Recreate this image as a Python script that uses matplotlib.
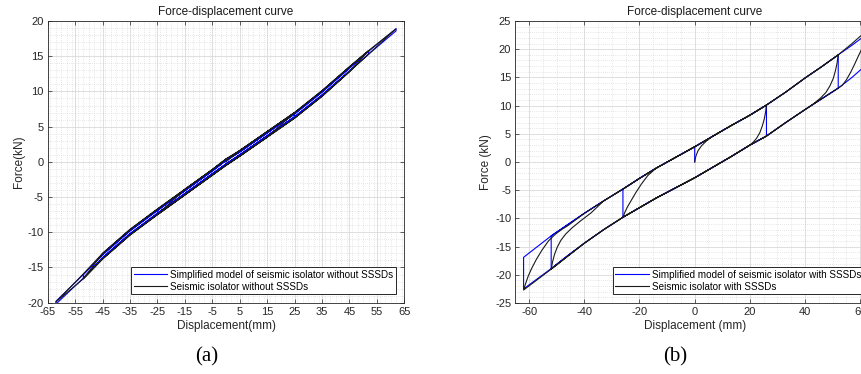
import numpy as np
import matplotlib
matplotlib.use("Agg")
import matplotlib.pyplot as plt
from matplotlib.ticker import MultipleLocator

plt.rcParams['font.family'] = ['Liberation Sans', 'DejaVu Sans']
plt.rcParams['axes.unicode_minus'] = False

# ---------------- Panel (a) data (without SSSDs) ----------------
xa = [-62, -52, -45, -35, -25, -15, -5, 0, 5, 15, 25, 35, 45, 52, 62]
# experimental isolator: branch while moving right (upper) / left (lower)
a_exp_upper = [-19.5, -15.9, -13.0, -9.6, -6.7, -3.9, -1.1, 0.4, 1.6, 4.3, 7.0, 10.1, 13.5, 15.8, 18.9]
a_exp_lower = [-19.9, -16.6, -13.8, -10.4, -7.5, -4.7, -1.9, -0.5, 0.8, 3.5, 6.2, 9.3, 12.8, 15.3, 18.8]
# simplified model
a_mod_upper = [-19.8, -16.0, -13.2, -9.8, -6.9, -4.1, -1.3, 0.2, 1.4, 4.1, 6.8, 9.9, 13.3, 15.7, 18.9]
a_mod_lower = [-20.2, -16.5, -13.6, -10.2, -7.3, -4.5, -1.7, -0.3, 1.0, 3.7, 6.4, 9.5, 12.9, 15.3, 18.6]

# ---------------- Panel (b) data (with SSSDs) ----------------
xb = [-65, -62, -52, -46, -40, -33, -26, -20, -14, -7, 0, 7, 13, 20, 26, 33, 40, 46, 52, 57, 60, 62, 63.5, 65]
b_mod_upper = [-17.9, -16.9, -13.1, -11.1, -9.1, -6.9, -4.8, -2.9, -1.1, 0.8, 2.7, 4.7, 6.4, 8.3, 10.1,
               12.4, 14.9, 16.9, 19.0, 20.7, 21.8, 22.5, 23.0, 23.5]
b_mod_lower = [-23.6, -22.5, -18.9, -16.6, -14.4, -12.0, -9.8, -8.1, -6.4, -4.6, -2.8, -0.8, 0.9, 3.0, 4.6,
               7.0, 9.3, 11.2, 13.1, 15.0, 16.3, 17.1, 17.7, 18.3]
b_exp_upper = [-18.2, -17.2, -13.4, -11.3, -9.1, -6.9, -4.8, -2.9, -1.1, 0.8, 2.7, 4.7, 6.4, 8.3, 10.1,
               12.4, 14.9, 16.9, 19.0, 21.0, 22.3, 23.0, 23.4, 23.9]
b_exp_lower = [-23.8, -22.7, -19.0, -16.7, -14.4, -12.0, -9.8, -8.1, -6.4, -4.6, -2.8, -0.8, 0.9, 3.0, 4.6,
               7.0, 9.3, 11.2, 13.1, 15.0, 16.3, 17.1, 17.7, 18.3]

# experimental reversal curves (panel b)
rev0_x = [0, 0.4, 1.2, 2.5, 4.2, 6, 7]
rev0_f = [0, 1.0, 2.0, 2.9, 3.7, 4.4, 4.7]
rev1_x = [26, 25.7, 25.2, 24.5, 23.6, 22.4, 21.2, 20]
rev1_f = [10.1, 8.9, 7.6, 6.4, 5.2, 4.2, 3.5, 3.0]
rev2_x = [-26, -25.3, -24.3, -23, -21.3, -19.3, -17, -14]
rev2_f = [-9.8, -8.9, -7.9, -6.8, -5.4, -3.9, -2.4, -1.1]
rev3_x = [52, 51.6, 51, 50.2, 49, 47.5, 45.5, 43, 40]
rev3_f = [19.0, 17.6, 16.2, 14.8, 13.5, 12.3, 11.3, 10.3, 9.3]
rev4_x = [-52, -51.5, -50.8, -49.8, -48.5, -46.8, -44.5, -41.5, -37.5, -33]
rev4_f = [-19.0, -17.7, -16.4, -15.1, -13.9, -12.8, -11.7, -10.5, -9.0, -6.9]
rev5_x = [63.5, 63.0, 62.2, 61.0, 59.5, 58, 56.5, 55, 53.5, 52]
rev5_f = [23.4, 22.6, 21.7, 20.5, 19.0, 17.4, 15.9, 14.6, 13.6, 13.1]
rev6_x = [-62, -61.3, -60.3, -59, -57.3, -55.3, -53, -50.5, -48, -46]
rev6_f = [-22.7, -21.6, -20.2, -18.8, -17.2, -15.6, -14.0, -12.8, -11.9, -11.3]

labels_a = ["Simplified model of seismic isolator without SSSDs", "Seismic isolator without SSSDs"]
labels_b = ["Simplified model of seismic isolator with SSSDs", "Seismic isolator with SSSDs"]


def branch(xs, fs, a, b):
    """Points of a branch between displacements a and b, ordered from a to b."""
    xs = np.asarray(xs, float)
    fs = np.asarray(fs, float)
    lo, hi = min(a, b), max(a, b)
    m = (xs >= lo) & (xs <= hi)
    px, pf = xs[m], fs[m]
    if a > b:
        px, pf = px[::-1], pf[::-1]
    return px, pf


def build(pieces):
    px = np.concatenate([np.asarray(p[0], float) for p in pieces])
    pf = np.concatenate([np.asarray(p[1], float) for p in pieces])
    return px, pf


# ---- panel (a) paths
a_mod_path = build([([0], [0]),
                    branch(xa, a_mod_upper, 0, 25),
                    branch(xa, a_mod_lower, 25, -25),
                    branch(xa, a_mod_upper, -25, 52),
                    branch(xa, a_mod_lower, 52, -52),
                    branch(xa, a_mod_upper, -52, 62),
                    branch(xa, a_mod_lower, 62, -62),
                    branch(xa, a_mod_upper, -62, 0)])
a_exp_path = build([([0], [0]),
                    branch(xa, a_exp_upper, 5, 25),
                    branch(xa, a_exp_lower, 15, -25),
                    branch(xa, a_exp_upper, -15, 52),
                    branch(xa, a_exp_lower, 45, -52),
                    branch(xa, a_exp_upper, -45, 62),
                    branch(xa, a_exp_lower, 52, -62),
                    branch(xa, a_exp_upper, -52, 0)])

# ---- panel (b) paths
b_mod_path = build([([0], [0]),
                    branch(xb, b_mod_upper, 0, 26),
                    branch(xb, b_mod_lower, 26, -26),
                    branch(xb, b_mod_upper, -26, 52),
                    branch(xb, b_mod_lower, 52, -52),
                    branch(xb, b_mod_upper, -52, 62),
                    branch(xb, b_mod_lower, 62, -62),
                    branch(xb, b_mod_upper, -62, 0)])
b_exp_path = build([(rev0_x, rev0_f),
                    branch(xb, b_exp_upper, 7, 26),
                    (rev1_x, rev1_f),
                    branch(xb, b_exp_lower, 20, -26),
                    (rev2_x, rev2_f),
                    branch(xb, b_exp_upper, -14, 52),
                    (rev3_x, rev3_f),
                    branch(xb, b_exp_lower, 40, -52),
                    (rev4_x, rev4_f),
                    branch(xb, b_exp_upper, -33, 63.5),
                    (rev5_x, rev5_f),
                    branch(xb, b_exp_lower, 52, -62),
                    (rev6_x, rev6_f),
                    branch(xb, b_exp_upper, -46, 0)])

W, H = 862, 374
fig = plt.figure(figsize=(W / 100, H / 100), dpi=100)
fig.patch.set_facecolor('white')

axc = '#262626'


def style(ax, xmaj, xmin, ymaj, ymin):
    ax.xaxis.set_major_locator(MultipleLocator(xmaj))
    ax.xaxis.set_minor_locator(MultipleLocator(xmin))
    ax.yaxis.set_major_locator(MultipleLocator(ymaj))
    ax.yaxis.set_minor_locator(MultipleLocator(ymin))
    ax.grid(True, which='major', color='#d9d9d9', lw=0.6, ls='-')
    ax.grid(True, which='minor', color='#d0d0d0', lw=0.5, ls=(0, (1, 2)))
    ax.set_axisbelow(True)
    ax.tick_params(which='major', direction='in', length=3, width=0.5, top=True, right=True,
                   labelsize=8, colors=axc, pad=3)
    ax.tick_params(which='minor', length=0, top=True, right=True)
    for s in ax.spines.values():
        s.set_color(axc)
        s.set_linewidth(0.6)


def legend(ax, handles, labels, **kw):
    leg = ax.legend(handles, labels, borderaxespad=0, fontsize=7.1, frameon=True, fancybox=False,
                    handlelength=3.4, handletextpad=0.3, labelspacing=0.2, borderpad=0.25, **kw)
    leg.get_frame().set_edgecolor('#262626')
    leg.get_frame().set_linewidth(0.7)
    leg.get_frame().set_alpha(1)
    return leg


# ----- panel (a)
axA = fig.add_axes([47.7 / W, (H - 302.7) / H, (404.3 - 47.7) / W, (302.7 - 21) / H])
la1, = axA.plot(*a_mod_path, color='#0000ff', lw=0.8)
la2, = axA.plot(*a_exp_path, color='#1a1a1a', lw=0.8)
axA.set_xlim(-65, 65)
axA.set_ylim(-20, 20)
style(axA, 10, 2, 5, 1)
axA.set_xticks(np.arange(-65, 66, 10))
axA.set_title("Force-displacement curve", fontsize=8.5, color='#1a1a1a', pad=4)
axA.set_xlabel("Displacement(mm)", fontsize=8.5, color=axc, labelpad=2)
axA.set_ylabel("Force(kN)", fontsize=8.5, color=axc, labelpad=2)
legend(axA, [la1, la2], labels_a, loc='lower right', bbox_to_anchor=(0.976, 0.03))

# ----- panel (b)
bx_left = 515.3
b_w = 130 * 2.76
axB = fig.add_axes([bx_left / W, (H - 303) / H, b_w / W, (303 - 21) / H])
lb1, = axB.plot(*b_mod_path, color='#0000ff', lw=0.8)
lb2, = axB.plot(*b_exp_path, color='#1a1a1a', lw=0.8)
axB.set_xlim(-65, 65)
axB.set_ylim(-25, 25)
style(axB, 20, 5, 5, 1)
axB.set_xticks(np.arange(-60, 61, 20))
axB.set_title("Force-displacement curve", fontsize=8.5, color='#1a1a1a', pad=4)
axB.set_xlabel("Displacement (mm)", fontsize=8.5, color=axc, labelpad=2)
axB.set_ylabel("Force (kN)", fontsize=8.5, color=axc, labelpad=2)
legend(axB, [lb1, lb2], labels_b, loc='lower left', bbox_to_anchor=(0.272, 0.031))

# panel labels
fig.text(206.7 / W, 1 - 356.7 / H, "(a)", fontsize=15, family=['Liberation Serif', 'DejaVu Serif'],
         ha='center', va='center')
fig.text(675.3 / W, 1 - 356.7 / H, "(b)", fontsize=15, family=['Liberation Serif', 'DejaVu Serif'],
         ha='center', va='center')

fig.savefig("out.png", dpi=100, facecolor='white')
